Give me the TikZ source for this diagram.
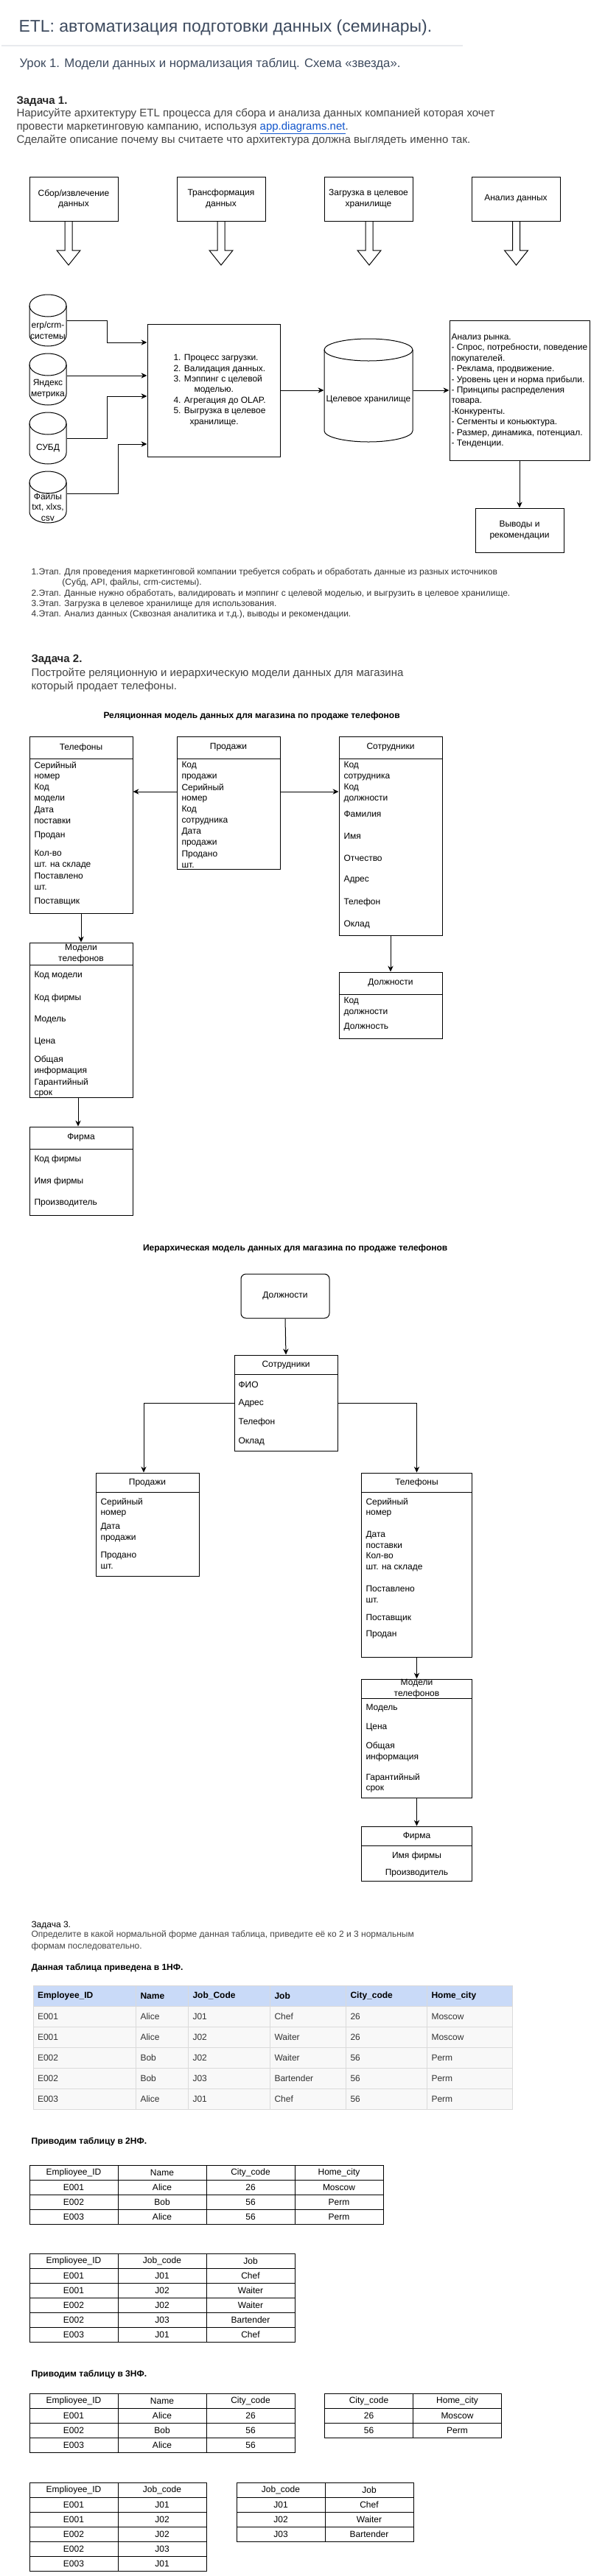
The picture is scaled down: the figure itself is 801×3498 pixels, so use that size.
\documentclass[tikz,border=0pt]{standalone}
\usepackage{fontspec}
\setmainfont{Liberation Sans}
\usetikzlibrary{arrows.meta,calc}
\definecolor{titlec}{RGB}{61,74,94}
\definecolor{parac}{RGB}{68,68,68}
\definecolor{stagec}{RGB}{51,51,51}
\definecolor{linkc}{RGB}{17,85,204}
\definecolor{hdrc}{RGB}{201,218,248}
\definecolor{cellc}{RGB}{248,248,248}
\definecolor{gridc}{RGB}{218,218,218}
\definecolor{rulec}{RGB}{232,234,238}
\newcommand{\pxu}{*0.75pt}
\newcommand{\fsA}{\fontsize{9pt}{10.8pt}\selectfont}
\newcommand{\fsB}{\fontsize{11.25pt}{13.5pt}\selectfont}
\newcommand{\fsC}{\fontsize{12.6pt}{15pt}\selectfont}
\newcommand{\fsT}{\fontsize{17.25pt}{20.7pt}\selectfont}
\newcounter{lbl}
\newcommand{\rt}[3]{\stepcounter{lbl}\node[rowtxt] (lbl\thelbl) at (#1,#2) {#3};}
\newcommand{\rc}[3]{\stepcounter{lbl}\node[font=\fsA,inner sep=0,align=center] (lbl\thelbl) at (#1,#2) {#3};}
% name, xl, top, w, total h, header h, title, extra
\newcommand{\erbox}[8]{%
  \node[draw,inner sep=0,minimum width=#4\pxu,minimum height=#5\pxu,#8] (#1) at ({#2+#4/2},{#3+#5/2}) {};
  \draw ({#2},{#3+#6}) -- ({#2+#4},{#3+#6});
  \node[font=\fsA,align=center,inner sep=0] (#1-h) at ({#2+#4/2},{#3+#6/2}) {#7};}
% name, xl, top, w, h, label, label y
\newcommand{\cyl}[7]{%
  \node[inner sep=0,minimum width=#4\pxu,minimum height=#5\pxu] (#1) at ({#2+#4/2},{#3+#5/2}) {};
  \draw ({#2},{#3+15}) -- ({#2},{#3+#5-15}) arc[start angle=180,end angle=0,x radius={#4/2},y radius=15] -- ({#2+#4},{#3+15});
  \draw ({#2+#4/2},{#3+15}) ellipse[x radius={#4/2},y radius=15];
  \node[font=\fsA,align=center,inner sep=0] (#1-l) at ({#2+#4/2},#7) {#6};}
% name, x0, y0, rows
\newcommand{\utable}[4]{%
  \foreach \row [count=\rr from 0] in {#4} {%
    \foreach \cell [count=\cc from 0] in \row {%
      \node[ucell] (#1-\rr-\cc) at ({#2+60+120*\cc},{#3+10+20*\rr}) {\cell};}}}
\begin{document}
\begin{tikzpicture}[x=0.75pt,y=-0.75pt,line width=0.75pt,
  box/.style={draw,inner sep=0,font=\fsA,align=center},
  rowtxt/.style={anchor=west,inner sep=0,font=\fsA,align=left},
  arr/.style={-{Stealth[length=6pt,width=5.5pt]}},
  ucell/.style={draw,inner sep=0,minimum width=90pt,minimum height=15pt,font=\fsA},
  nfcell/.style={draw=gridc,inner xsep=4.5pt,inner ysep=0,minimum height=21pt,font=\fsA,align=left,text=stagec}]
\fill[white] (0,0) rectangle (801,3498);
\useasboundingbox (0,0) rectangle (801,3498);

% ---------- header ----------
\node[anchor=base west,inner sep=0,font=\fsT,text=titlec] (title) at (25,43) {ETL: автоматизация подготовки данных (семинары).};
\draw[rulec,line width=1.5pt] (2,62) -- (628,62);
\node[anchor=base west,inner sep=0,font=\fsC,text=titlec] (subtitle) at (26,91) {Урок 1. Модели данных и нормализация таблиц. Схема «звезда».};

% ---------- task 1 ----------
\node[anchor=base west,inner sep=0,font=\fsB\bfseries,text=black!85] (task1) at (22,141) {Задача 1.};
\node[anchor=west,inner sep=0,font=\fsB,text=parac,align=left] (task1p) at (22,172.5) {Нарисуйте архитектуру ETL процесса для сбора и анализа данных компанией которая хочет\\провести маркетинговую кампанию, используя \textcolor{linkc}{\underline{app.diagrams.net}}.\\Сделайте описание почему вы считаете что архитектура должна выглядеть именно так.};

\node[box,minimum width=90pt,minimum height=45pt] (b1) at (100,270) {Сбор/извлечение\\данных};
\node[box,minimum width=90pt,minimum height=45pt] (b2) at (300,270) {Трансформация\\данных};
\node[box,minimum width=90pt,minimum height=45pt] (b3) at (500,270) {Загрузка в целевое\\хранилище};
\node[box,minimum width=90pt,minimum height=45pt] (b4) at (700,270) {Анализ данных};
\foreach \cx in {93,300,501,700.5}
  \draw ({\cx-5},300) -- ({\cx-5},340) -- ({\cx-16},340) -- (\cx,360) -- ({\cx+16},340) -- ({\cx+5},340) -- ({\cx+5},300);

\cyl{c1}{40}{400}{50}{70}{erp/crm-\\системы}{448.7}
\cyl{c2}{40}{480}{50}{70}{Яндекс\\метрика}{528.2}
\cyl{c3}{40}{560}{50}{70}{СУБД}{608}
\cyl{c4}{40}{640}{50}{70}{Файлы\\txt, xlxs,\\csv}{688.5}

\node[draw,inner sep=0,minimum width=135pt,minimum height=135pt] (proc) at (290,530) {};
\node[anchor=west,inner sep=0,font=\fsA,align=left] (procl) at (235,530) {1. Процесс загрузки.\\2. Валидация данных.\\3. Мэппинг с целевой\\\hspace*{21pt}моделью.\\4. Агрегация до OLAP.\\5. Выгрузка в целевое\\\hspace*{16.5pt}хранилище.};

\cyl{dw}{440}{460}{120}{140}{Целевое хранилище}{543}

\node[draw,inner sep=0,minimum width=142.5pt,minimum height=142.5pt] (an) at (705,530) {};
\node[anchor=west,inner sep=0,font=\fsA,align=left] (anl) at (612,530.5) {Анализ рынка.\\- Спрос, потребности, поведение\\покупателей.\\- Реклама, продвижение.\\- Уровень цен и норма прибыли.\\- Принципы распределения\\товара.\\-Конкуренты.\\- Сегменты и коньюктура.\\- Размер, динамика, потенциал.\\- Тенденции.};
\node[box,minimum width=90pt,minimum height=45pt] (vyv) at (705,720) {Выводы и\\рекомендации};

\draw[arr] (c1.east) -| (145,465) -- (proc.west |- 0,465);
\draw[arr] (c2.east |- 0,510) -- (proc.west |- 0,510);
\draw[arr] (c3.east) -| (145,538) -- (proc.west |- 0,538);
\draw[arr] (c4.east |- 0,670) -| (160,603) -- (proc.west |- 0,603);
\draw[arr] (proc.east) -- (dw.west |- proc.east);
\draw[arr] (dw.east |- an.west) -- (an.west);
\draw[arr] (an.south) -- (vyv.north);

\node[anchor=west,inner sep=0,font=\fsA,align=left,text=stagec] (stages) at (42,805.8) {1.Этап. Для проведения маркетинговой компании требуется собрать и обработать данные из разных источников\\\hspace*{31.5pt}(Субд, API, файлы, crm-системы).\\2.Этап. Данные нужно обработать, валидировать и мэппинг с целевой моделью, и выгрузить в целевое хранилище.\\3.Этап. Загрузка в целевое хранилище для использования.\\4.Этап. Анализ данных (Сквозная аналитика и т.д.), выводы и рекомендации.};

% ---------- task 2 ----------
\node[anchor=west,inner sep=0,font=\fsB\bfseries,text=black!85] (task2) at (42,896) {Задача 2.};
\node[anchor=west,inner sep=0,font=\fsB,text=parac,align=left] (task2p) at (42,923.3) {Постройте реляционную и иерархическую модели данных для магазина\\который продает телефоны.};
\node[inner sep=0,font=\fsA\bfseries] (reltitle) at (341.6,972.7) {Реляционная модель данных для магазина по продаже телефонов};

\erbox{tel}{40}{1000}{140}{240}{30}{Телефоны}{}
\rt{46}{1047}{Серийный\\номер}
\rt{46}{1077}{Код\\модели}
\rt{46}{1107}{Дата\\поставки}
\rt{46}{1135}{Продан}
\rt{46}{1167}{Кол-во\\шт. на складе}
\rt{46}{1197}{Поставлено\\шт.}
\rt{46}{1225}{Поставщик}

\erbox{prod}{240}{1000}{140}{180}{30}{Продажи}{}
\rt{246}{1047}{Код\\продажи}
\rt{246}{1077}{Серийный\\номер}
\rt{246}{1107}{Код\\сотрудника}
\rt{246}{1137}{Дата\\продажи}
\rt{246}{1167}{Продано\\шт.}

\erbox{sotr}{460}{1000}{140}{270}{30}{Сотрудники}{}
\rt{466}{1047}{Код\\сотрудника}
\rt{466}{1077}{Код\\должности}
\rt{466}{1105}{Фамилия}
\rt{466}{1135}{Имя}
\rt{466}{1165}{Отчество}
\rt{466}{1195}{Адрес}
\rt{466}{1225}{Телефон}
\rt{466}{1255}{Оклад}

\erbox{mod}{40}{1280}{140}{210}{30}{Модели\\телефонов}{}
\rt{46}{1325}{Код модели}
\rt{46}{1355}{Код фирмы}
\rt{46}{1385}{Модель}
\rt{46}{1415}{Цена}
\rt{46}{1447}{Общая\\информация}
\rt{46}{1477}{Гарантийный\\срок}

\erbox{firm}{40}{1530}{140}{120}{30}{Фирма}{}
\rt{46}{1574}{Код фирмы}
\rt{46}{1604}{Имя фирмы}
\rt{46}{1634}{Производитель}

\erbox{dolzh}{460}{1320}{140}{90}{30}{Должности}{}
\rt{466}{1367}{Код\\должности}
\rt{466}{1395}{Должность}

\draw[arr] (prod.west |- 0,1075) -- (tel.east |- 0,1075);
\draw[arr] (prod.east |- 0,1075) -- (sotr.west |- 0,1075);
\draw[arr] (tel.south) -- (mod.north);
\draw[arr] (mod.south -| 106,0) -- (firm.north -| 106,0);
\draw[arr] (sotr.south) -- (dolzh.north);

% ---------- hierarchical ----------
\node[inner sep=0,font=\fsA\bfseries] (hiertitle) at (400.7,1695) {Иерархическая модель данных для магазина по продаже телефонов};
\node[box,rounded corners=5pt,minimum width=90pt,minimum height=45pt] (hd) at (387,1760) {Должности};

\erbox{hs}{318}{1840}{140}{130}{26.5}{Сотрудники}{}
\rt{323}{1880}{ФИО}
\rt{323}{1905.7}{Адрес}
\rt{323}{1931.7}{Телефон}
\rt{323}{1957.7}{Оклад}

\erbox{hp}{130}{2000}{140}{140}{26.5}{Продажи}{}
\rt{136}{2047}{Серийный\\номер}
\rt{136}{2081}{Дата\\продажи}
\rt{136}{2118.8}{Продано\\шт.}

\erbox{ht}{490.5}{2000}{150}{250}{26.5}{Телефоны}{}
\rt{496}{2047}{Серийный\\номер}
\rt{496}{2091}{Дата\\поставки}
\rt{496}{2121}{Кол-во\\шт. на складе}
\rt{496}{2165}{Поставлено\\шт.}
\rt{496}{2197.7}{Поставщик}
\rt{496}{2220}{Продан}

\erbox{hm}{490.5}{2280}{150}{161}{26.5}{Модели\\телефонов}{}
\rt{496}{2320}{Модель}
\rt{496}{2346}{Цена}
\rt{496}{2378.8}{Общая\\информация}
\rt{496}{2421}{Гарантийный\\срок}

\erbox{hf}{490.5}{2480}{150}{74}{26.5}{Фирма}{}
\rc{565.5}{2520}{Имя фирмы}
\rc{565.5}{2544}{Производитель}

\draw[arr] (hd.south) -- (hs.north);
\draw[arr] (hs.west |- 0,1905) -| (hp.north -| 195,0);
\draw[arr] (hs.east |- 0,1905) -| (ht.north);
\draw[arr] (ht.south) -- (hm.north);
\draw[arr] (hm.south) -- (hf.north);

% ---------- task 3 ----------
\node[anchor=west,inner sep=0,font=\fsA] (task3) at (42,2614) {Задача 3.};
\node[anchor=west,inner sep=0,font=\fontsize{9pt}{11.7pt}\selectfont,text=parac,align=left] (task3p) at (42,2635.5) {Определите в какой нормальной форме данная таблица, приведите её ко 2 и 3 нормальным\\формам последовательно.};
\node[anchor=west,inner sep=0,font=\fsA\bfseries] (nf1) at (42,2672) {Данная таблица приведена в 1НФ.};

\foreach \cell [count=\cc from 0] in {Employee\_ID,Name,Job\_Code,Job,City\_code,Home\_city} {
  \pgfmathsetmacro\xl{{45,184.5,255.5,366.5,469.5,579.5}[\cc]}
  \pgfmathsetmacro\w{{139.5,71,111,103,110,116}[\cc]}
  \pgfmathsetlengthmacro\tw{(\w-12)*0.75pt}
  \node[nfcell,fill=hdrc,text=black,font=\fsA\bfseries,text width=\tw] (t1-0-\cc) at ({\xl+\w/2},2710) {\cell};
}
\foreach \row [count=\rr from 1] in {{E001,Alice,J01,Chef,26,Moscow},{E001,Alice,J02,Waiter,26,Moscow},{E002,Bob,J02,Waiter,56,Perm},{E002,Bob,J03,Bartender,56,Perm},{E003,Alice,J01,Chef,56,Perm}} {
  \foreach \cell [count=\cc from 0] in \row {
    \pgfmathsetmacro\xl{{45,184.5,255.5,366.5,469.5,579.5}[\cc]}
    \pgfmathsetmacro\w{{139.5,71,111,103,110,116}[\cc]}
    \pgfmathsetlengthmacro\tw{(\w-12)*0.75pt}
    \node[nfcell,fill=cellc,text width=\tw] (t1-\rr-\cc) at ({\xl+\w/2},{2710+28*\rr}) {\cell};
  }
}

\node[anchor=west,inner sep=0,font=\fsA\bfseries] (nf2) at (42,2908) {Приводим таблицу в 2НФ.};
\utable{tA}{40}{2940.5}{{Emplioyee\_ID,Name,City\_code,Home\_city},{E001,Alice,26,Moscow},{E002,Bob,56,Perm},{E003,Alice,56,Perm}}
\utable{tB}{40}{3060.3}{{Emplioyee\_ID,Job\_code,Job},{E001,J01,Chef},{E001,J02,Waiter},{E002,J02,Waiter},{E002,J03,Bartender},{E003,J01,Chef}}

\node[anchor=west,inner sep=0,font=\fsA\bfseries] (nf3) at (42,3224) {Приводим таблицу в 3НФ.};
\utable{tC}{40}{3250.5}{{Emplioyee\_ID,Name,City\_code},{E001,Alice,26},{E002,Bob,56},{E003,Alice,56}}
\utable{tD}{440.5}{3250.5}{{City\_code,Home\_city},{26,Moscow},{56,Perm}}
\utable{tE}{40}{3371.3}{{Emplioyee\_ID,Job\_code},{E001,J01},{E001,J02},{E002,J02},{E002,J03},{E003,J01}}
\utable{tF}{321}{3371.3}{{Job\_code,Job},{J01,Chef},{J02,Waiter},{J03,Bartender}}
\end{tikzpicture}
\end{document}
